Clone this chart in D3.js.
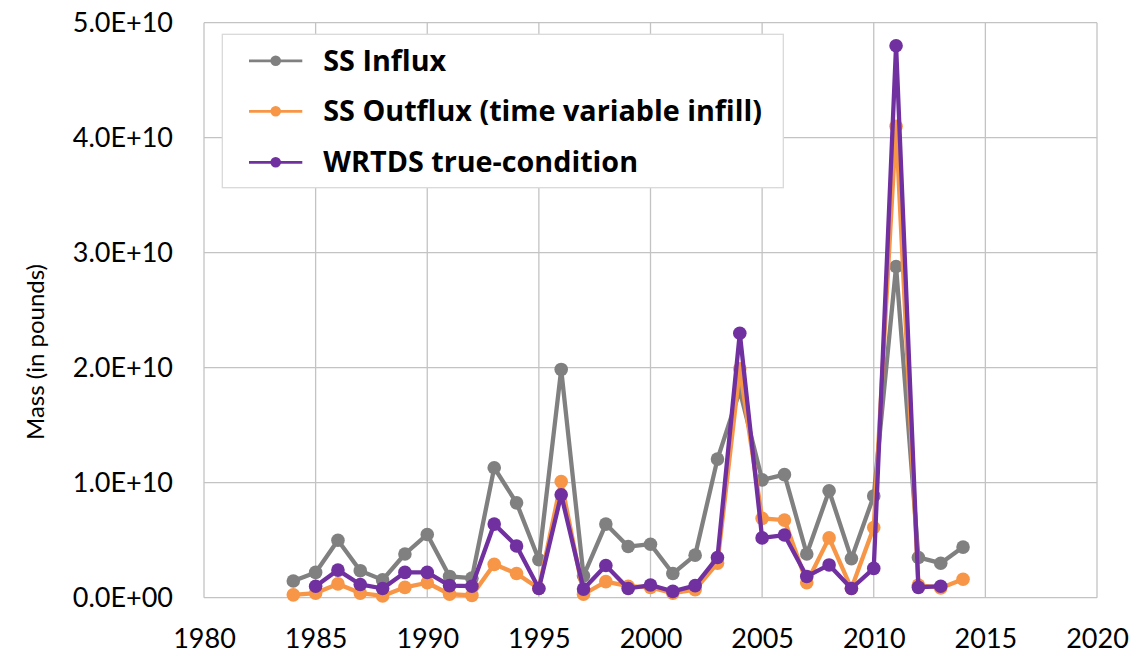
<!DOCTYPE html>
<html>
<head>
<meta charset="utf-8">
<script src="https://cdn.jsdelivr.net/npm/d3@7"></script>
<style>
  body { margin: 0; background: #fff; }
  svg { display: block; font-family: Lato, "Open Sans", sans-serif; }
</style>
</head>
<body>
<div id="chart"></div>
<script>
// years 1984 - 2014
const years = d3.range(1984, 2015);

// pounds
const ssInflux = [1.45e9, 2.2e9, 5.0e9, 2.35e9, 1.55e9, 3.8e9, 5.5e9, 1.85e9, 1.7e9, 11.3e9,
  8.25e9, 3.3e9, 19.85e9, 1.9e9, 6.4e9, 4.45e9, 4.65e9, 2.1e9, 3.7e9, 12.05e9,
  18.0e9, 10.25e9, 10.7e9, 3.8e9, 9.3e9, 3.4e9, 8.85e9, 28.8e9, 3.5e9, 3.0e9, 4.4e9];

const ssOutflux = [0.25e9, 0.4e9, 1.2e9, 0.4e9, 0.15e9, 0.9e9, 1.3e9, 0.3e9, 0.2e9, 2.9e9,
  2.1e9, 0.8e9, 10.1e9, 0.3e9, 1.4e9, 1.0e9, 0.9e9, 0.4e9, 0.7e9, 3.0e9,
  19.9e9, 6.9e9, 6.75e9, 1.3e9, 5.2e9, 0.8e9, 6.1e9, 41.0e9, 1.1e9, 0.85e9, 1.6e9];

// no WRTDS value for 1984 and 2014
const wrtds = [null, 1.0e9, 2.4e9, 1.15e9, 0.8e9, 2.2e9, 2.2e9, 1.05e9, 1.0e9, 6.4e9,
  4.5e9, 0.8e9, 8.95e9, 0.75e9, 2.8e9, 0.8e9, 1.1e9, 0.55e9, 1.05e9, 3.5e9,
  23.0e9, 5.2e9, 5.45e9, 1.85e9, 2.85e9, 0.8e9, 2.55e9, 48.0e9, 0.9e9, 1.0e9, null];

const seriesNames = ['SS Influx', 'SS Outflux (time variable infill)', 'WRTDS true-condition'];
const seriesColors = ['#808080', '#f79646', '#7030a0'];
const xTicks = d3.range(1980, 2021, 5);
const yTicks = d3.range(0, 5e10 + 1, 1e10);

const series = [ssInflux, ssOutflux, wrtds].map((vals, i) => ({
  name: seriesNames[i],
  color: seriesColors[i],
  points: years.map((yr, j) => ({ year: yr, value: vals[j] }))
}));

const W = 1137, H = 656;
const margin = { top: 22.7, right: 40, bottom: 58.3, left: 204 };
const width = W - margin.left - margin.right;
const height = H - margin.top - margin.bottom;

const svg = d3.select('#chart').append('svg')
  .attr('width', W)
  .attr('height', H);

const g = svg.append('g')
  .attr('transform', `translate(${margin.left},${margin.top})`);

const xScale = d3.scaleLinear().domain([1980, 2020]).range([0, width]);
const yScale = d3.scaleLinear().domain([0, 5e10]).range([height, 0]);

// 5.0E+10 style labels
function sciFormat(d) {
  if (d === 0) return '0.0E+00';
  const exp = Math.floor(Math.log10(Math.abs(d)));
  const mant = d / Math.pow(10, exp);
  return mant.toFixed(1) + 'E+' + String(exp).padStart(2, '0');
}

const gridColor = '#c3c3c3';

// gridlines
g.append('g')
  .selectAll('line.hgrid')
  .data(yTicks)
  .enter()
  .append('line')
  .attr('x1', 0)
  .attr('x2', width)
  .attr('y1', d => yScale(d))
  .attr('y2', d => yScale(d))
  .attr('stroke', gridColor)
  .attr('stroke-width', 1.3);

g.append('g')
  .selectAll('line.vgrid')
  .data(xTicks)
  .enter()
  .append('line')
  .attr('x1', d => xScale(d))
  .attr('x2', d => xScale(d))
  .attr('y1', 0)
  .attr('y2', height)
  .attr('stroke', gridColor)
  .attr('stroke-width', 1.3);

// axes, labels only
const yAxis = d3.axisLeft(yScale)
  .tickValues(yTicks)
  .tickFormat(sciFormat)
  .tickSize(0)
  .tickPadding(31);

g.append('g')
  .attr('class', 'y-axis')
  .call(yAxis)
  .call(a => a.select('.domain').remove())
  .selectAll('text')
  .attr('font-family', 'Lato, sans-serif')
  .attr('font-size', '27px')
  .attr('fill', '#000');

const xAxis = d3.axisBottom(xScale)
  .tickValues(xTicks)
  .tickFormat(d3.format('d'))
  .tickSize(0)
  .tickPadding(31);

g.append('g')
  .attr('class', 'x-axis')
  .attr('transform', `translate(0,${height})`)
  .call(xAxis)
  .call(a => a.select('.domain').remove())
  .selectAll('text')
  .attr('font-family', 'Lato, sans-serif')
  .attr('font-size', '27px')
  .attr('fill', '#000');

svg.append('text')
  .attr('transform', `translate(44,352) rotate(-90)`)
  .attr('text-anchor', 'middle')
  .attr('font-size', '24px')
  .attr('fill', '#000')
  .text('Mass (in pounds)');

// lines and markers
const line = d3.line()
  .defined(d => d.value !== null)
  .x(d => xScale(d.year))
  .y(d => yScale(d.value));

series.forEach(s => {
  const sg = g.append('g');
  sg.append('path')
    .datum(s.points)
    .attr('fill', 'none')
    .attr('stroke', s.color)
    .attr('stroke-width', 4.3)
    .attr('stroke-linejoin', 'round')
    .attr('d', line);
  sg.selectAll('.dot')
    .data(s.points.filter(d => d.value !== null))
    .enter()
    .append('circle')
    .attr('class', 'dot')
    .attr('cx', d => xScale(d.year))
    .attr('cy', d => yScale(d.value))
    .attr('r', 6.8)
    .attr('fill', s.color);
});

// legend
const legend = svg.append('g')
  .attr('transform', 'translate(222.3,34.3)');

legend.append('rect')
  .attr('width', 561)
  .attr('height', 153.4)
  .attr('fill', '#fff')
  .attr('stroke', '#d9d9d9')
  .attr('stroke-width', 1.3);

const rowY = [26.5, 77, 128];

const items = legend.selectAll('.item')
  .data(series)
  .enter()
  .append('g')
  .attr('transform', (d, i) => `translate(0,${rowY[i]})`);

items.append('line')
  .attr('x1', 26.7)
  .attr('x2', 80)
  .attr('stroke', d => d.color)
  .attr('stroke-width', 2.8);

items.append('circle')
  .attr('cx', 53.4)
  .attr('r', 5.3)
  .attr('fill', d => d.color);

const legendText = items.append('text')
  .attr('x', 101)
  .attr('dy', '0.35em')
  .attr('font-family', '"Open Sans", Lato, sans-serif')
  .attr('font-size', '27px')
  .attr('font-weight', 'bold')
  .attr('fill', '#000')
  .text(d => d.name);

// Fit the longest entry to the width it has in the original (~439px)
const longest = legendText.filter((d, i) => i === 1).node();
const measured = longest.getComputedTextLength();
if (measured > 0) {
  const fitted = Math.min(30, Math.max(22, 27 * 439 / measured));
  legendText.attr('font-size', fitted + 'px');
}
</script>
</body>
</html>
